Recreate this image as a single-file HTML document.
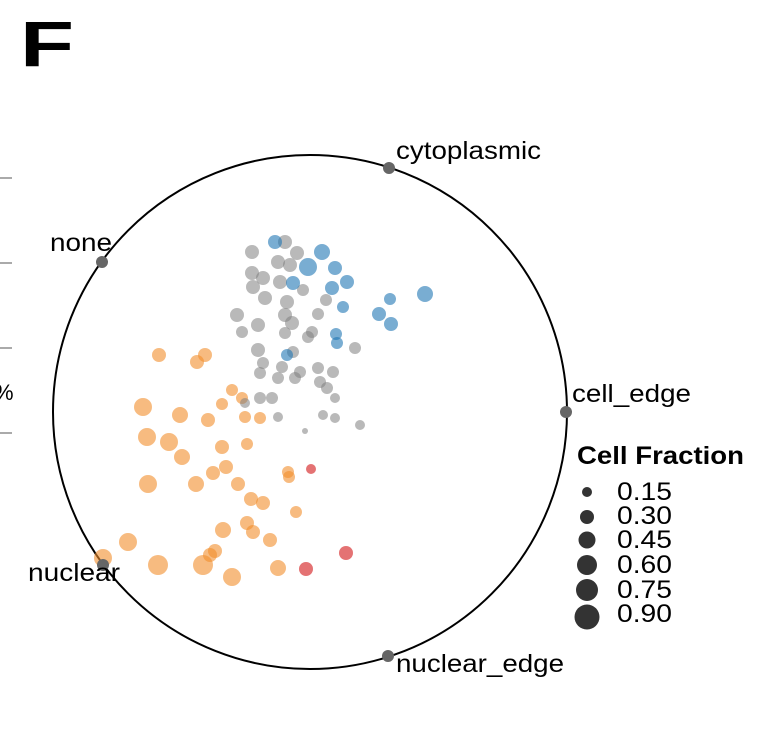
<!DOCTYPE html>
<html><head><meta charset="utf-8"><style>
html,body{margin:0;padding:0;background:#fff;width:760px;height:753px;overflow:hidden}
svg{display:block}
text{font-family:"Liberation Sans",sans-serif}
</style></head><body>
<svg width="760" height="753" viewBox="0 0 760 753">
<text x="20" y="66" font-size="64" font-weight="bold" textLength="54" lengthAdjust="spacingAndGlyphs">F</text>
<g stroke="#aaa" stroke-width="2">
<line x1="0" y1="178" x2="12" y2="178"/><line x1="0" y1="263" x2="12" y2="263"/>
<line x1="0" y1="348" x2="12" y2="348"/><line x1="0" y1="433" x2="12" y2="433"/>
</g>
<text x="-6" y="400" font-size="22">%</text>
<circle cx="310" cy="412" r="257" fill="none" stroke="#000" stroke-width="2"/>
<g fill="#f28e2b" fill-opacity="0.6">
<circle cx="159" cy="355" r="7"/><circle cx="197" cy="362" r="7"/><circle cx="205" cy="355" r="7"/>
<circle cx="232" cy="390" r="6"/><circle cx="242" cy="398" r="6"/><circle cx="143" cy="407" r="9"/>
<circle cx="180" cy="415" r="8"/><circle cx="208" cy="420" r="7"/><circle cx="222" cy="404" r="6"/>
<circle cx="245" cy="417" r="6"/><circle cx="260" cy="418" r="6"/><circle cx="147" cy="437" r="9"/>
<circle cx="169" cy="442" r="9"/><circle cx="182" cy="457" r="8"/><circle cx="222" cy="447" r="7"/>
<circle cx="247" cy="444" r="6"/><circle cx="148" cy="484" r="9"/><circle cx="196" cy="484" r="8"/>
<circle cx="213" cy="473" r="7"/><circle cx="226" cy="467" r="7"/><circle cx="238" cy="484" r="7"/>
<circle cx="251" cy="499" r="7"/><circle cx="263" cy="503" r="7"/><circle cx="288" cy="472" r="6"/>
<circle cx="289" cy="477" r="6"/><circle cx="296" cy="512" r="6"/><circle cx="223" cy="530" r="8"/>
<circle cx="247" cy="523" r="7"/><circle cx="253" cy="532" r="7"/><circle cx="270" cy="540" r="7"/>
<circle cx="215" cy="551" r="7"/><circle cx="210" cy="555" r="7"/><circle cx="128" cy="542" r="9"/>
<circle cx="103" cy="558" r="9"/><circle cx="158" cy="565" r="10"/><circle cx="203" cy="565" r="10"/>
<circle cx="232" cy="577" r="9"/><circle cx="278" cy="568" r="8"/>
</g>
<g fill="#d62728" fill-opacity="0.65">
<circle cx="311" cy="469" r="5"/><circle cx="306" cy="569" r="7"/><circle cx="346" cy="553" r="7"/>
</g>
<g fill="#7f7f7f" fill-opacity="0.55">
<circle cx="252" cy="252" r="7"/><circle cx="285" cy="242" r="7"/><circle cx="297" cy="253" r="7"/>
<circle cx="278" cy="262" r="7"/><circle cx="290" cy="265" r="7"/><circle cx="252" cy="273" r="7"/>
<circle cx="263" cy="278" r="7"/><circle cx="253" cy="287" r="7"/><circle cx="280" cy="282" r="7"/>
<circle cx="265" cy="298" r="7"/><circle cx="287" cy="302" r="7"/><circle cx="237" cy="315" r="7"/>
<circle cx="258" cy="325" r="7"/><circle cx="285" cy="315" r="7"/><circle cx="318" cy="314" r="6"/>
<circle cx="292" cy="323" r="7"/><circle cx="242" cy="332" r="6"/><circle cx="285" cy="333" r="6"/>
<circle cx="312" cy="332" r="6"/><circle cx="308" cy="337" r="6"/><circle cx="355" cy="348" r="6"/>
<circle cx="258" cy="350" r="7"/><circle cx="263" cy="363" r="6"/><circle cx="293" cy="352" r="6"/>
<circle cx="282" cy="367" r="6"/><circle cx="300" cy="372" r="6"/><circle cx="318" cy="368" r="6"/>
<circle cx="333" cy="372" r="6"/><circle cx="260" cy="373" r="6"/><circle cx="278" cy="378" r="6"/>
<circle cx="295" cy="378" r="6"/><circle cx="320" cy="382" r="6"/><circle cx="327" cy="388" r="6"/>
<circle cx="335" cy="398" r="5"/><circle cx="260" cy="398" r="6"/><circle cx="272" cy="398" r="6"/>
<circle cx="323" cy="415" r="5"/><circle cx="335" cy="418" r="5"/><circle cx="360" cy="425" r="5"/>
<circle cx="278" cy="417" r="5"/><circle cx="305" cy="431" r="3"/><circle cx="303" cy="290" r="6"/>
<circle cx="326" cy="300" r="6"/><circle cx="245" cy="403" r="5"/>
</g>
<g fill="#1f77b4" fill-opacity="0.6">
<circle cx="275" cy="242" r="7"/><circle cx="322" cy="252" r="8"/><circle cx="308" cy="267" r="9"/>
<circle cx="293" cy="283" r="7"/><circle cx="335" cy="268" r="7"/><circle cx="347" cy="282" r="7"/>
<circle cx="332" cy="288" r="7"/><circle cx="343" cy="307" r="6"/><circle cx="390" cy="299" r="6"/>
<circle cx="425" cy="294" r="8"/><circle cx="379" cy="314" r="7"/><circle cx="391" cy="324" r="7"/>
<circle cx="336" cy="334" r="6"/><circle cx="337" cy="343" r="6"/><circle cx="287" cy="355" r="6"/>
</g>
<g fill="#666">
<circle cx="389" cy="168" r="6"/><circle cx="102" cy="262" r="6"/><circle cx="566" cy="412" r="6"/>
<circle cx="103" cy="565" r="6"/><circle cx="388" cy="656" r="6"/>
</g>
<g font-size="25" fill="#000">
<text x="396" y="159" textLength="145" lengthAdjust="spacingAndGlyphs">cytoplasmic</text>
<text x="50" y="251" textLength="62" lengthAdjust="spacingAndGlyphs">none</text>
<text x="572" y="402" textLength="119" lengthAdjust="spacingAndGlyphs">cell_edge</text>
<text x="28" y="581" textLength="92" lengthAdjust="spacingAndGlyphs">nuclear</text>
<text x="396" y="672" textLength="168" lengthAdjust="spacingAndGlyphs">nuclear_edge</text>
</g>
<text x="577" y="464" font-size="25" font-weight="bold" textLength="167" lengthAdjust="spacingAndGlyphs">Cell Fraction</text>
<g fill="#333">
<circle cx="587" cy="492" r="5"/><circle cx="587" cy="517" r="7"/><circle cx="587" cy="540" r="8.5"/>
<circle cx="587" cy="565" r="10"/><circle cx="587" cy="590" r="11"/><circle cx="587" cy="617" r="12.5"/>
</g>
<g font-size="25">
<text x="617" y="500" textLength="55" lengthAdjust="spacingAndGlyphs">0.15</text>
<text x="617" y="524" textLength="55" lengthAdjust="spacingAndGlyphs">0.30</text>
<text x="617" y="548" textLength="55" lengthAdjust="spacingAndGlyphs">0.45</text>
<text x="617" y="573" textLength="55" lengthAdjust="spacingAndGlyphs">0.60</text>
<text x="617" y="598" textLength="55" lengthAdjust="spacingAndGlyphs">0.75</text>
<text x="617" y="622" textLength="55" lengthAdjust="spacingAndGlyphs">0.90</text>
</g>
</svg>
</body></html>
